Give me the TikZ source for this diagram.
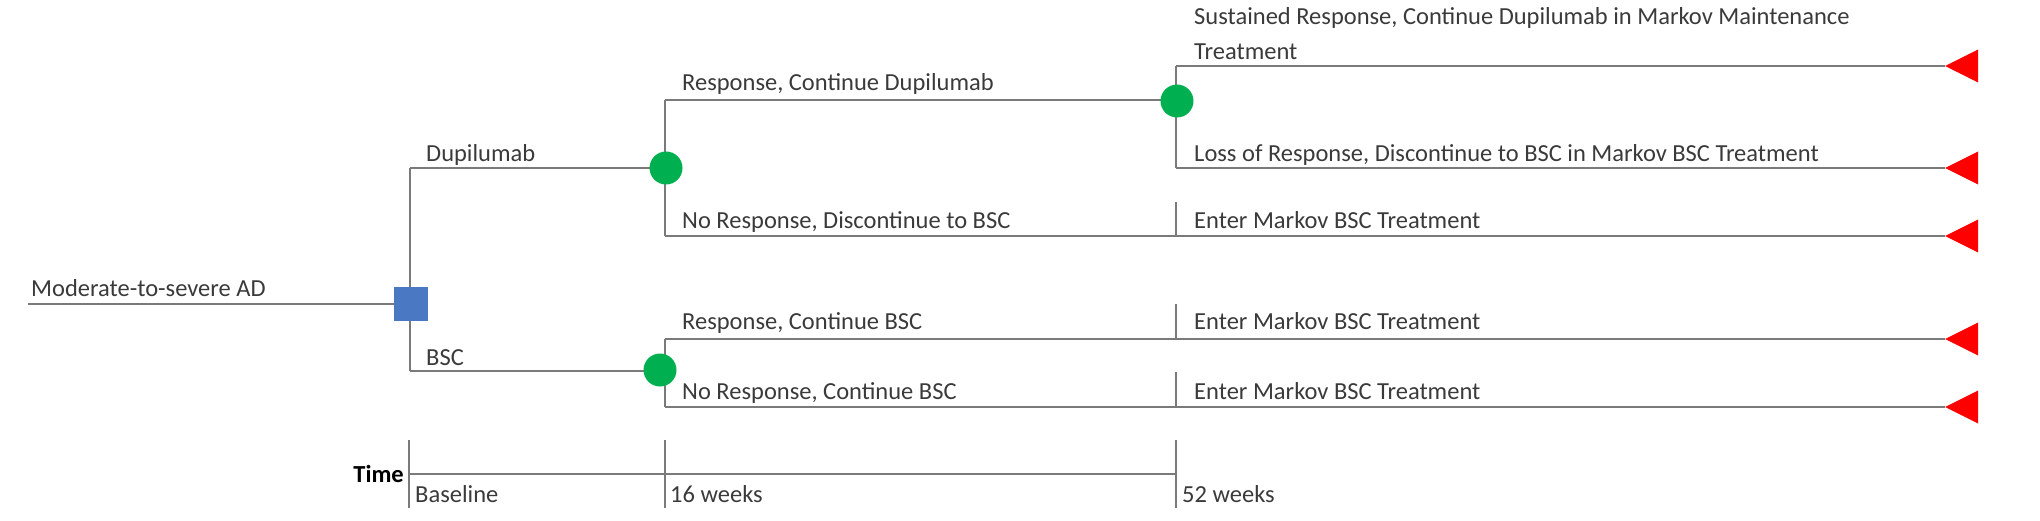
\documentclass[tikz,border=0pt]{standalone}
\usepackage{fontspec}
\setmainfont{Carlito}
\definecolor{linegray}{HTML}{7A7A7A}
\definecolor{txtgray}{HTML}{3A3A3A}
\definecolor{decblue}{HTML}{4A78C2}
\definecolor{chgreen}{HTML}{00B050}
\definecolor{termred}{HTML}{FF0000}
\tikzset{
  br/.style={draw=linegray, line width=2.4pt},
  lbl/.style={anchor=base west, inner sep=0pt, text=txtgray, font=\fontsize{24.5}{29}\selectfont},
  decision/.style={rectangle, fill=decblue, minimum size=34pt, inner sep=0pt},
  chance/.style={circle, fill=chgreen, minimum size=33pt, inner sep=0pt},
  termtri/.style={fill=termred}
}
\begin{document}
\begin{tikzpicture}[x=1pt,y=-1pt]
\useasboundingbox (0,0) rectangle (2040,521);
% junction coordinates
\coordinate (root) at (28,304);
\coordinate (jd) at (410,168);
\coordinate (jb) at (410,371);
\coordinate (c1top) at (665,100);
\coordinate (c1bot) at (665,236);
\coordinate (c2top) at (1176,66);
\coordinate (c2bot) at (1176,168);
\coordinate (c3top) at (665,339);
\coordinate (c3bot) at (665,407);
\coordinate (t1) at (1945,66);
\coordinate (t2) at (1945,168);
\coordinate (t3) at (1945,236);
\coordinate (t4) at (1945,339);
\coordinate (t5) at (1945,407);
% ticks at 52 weeks
\coordinate (k1a) at (1176,202); \coordinate (k1b) at (1176,236);
\coordinate (k2a) at (1176,304); \coordinate (k2b) at (1176,339);
\coordinate (k3a) at (1176,372); \coordinate (k3b) at (1176,407);
% time axis
\coordinate (ta) at (409,474); \coordinate (tb) at (1176,474);
\coordinate (tk1a) at (409,440); \coordinate (tk1b) at (409,508);
\coordinate (tk2a) at (665,440); \coordinate (tk2b) at (665,508);
\coordinate (tk3a) at (1176,440); \coordinate (tk3b) at (1176,508);

% branches
\draw[br] (root) -- (410,304);
\draw[br] (jd) -- (jb);
\draw[br] (jd) -- (666,168);
\draw[br] (jb) -- (660,371);
\draw[br] (c1top) -- (c1bot);
\draw[br] (c1top) -- (1177,100);
\draw[br] (c1bot) -- (t3);
\draw[br] (c2top) -- (c2bot);
\draw[br] (c2top) -- (t1);
\draw[br] (c2bot) -- (t2);
\draw[br] (c3top) -- (c3bot);
\draw[br] (c3top) -- (t4);
\draw[br] (c3bot) -- (t5);
\draw[br] (k1a) -- (k1b);
\draw[br] (k2a) -- (k2b);
\draw[br] (k3a) -- (k3b);
\draw[br] (ta) -- (tb);
\draw[br] (tk1a) -- (tk1b);
\draw[br] (tk2a) -- (tk2b);
\draw[br] (tk3a) -- (tk3b);

% nodes
\node[decision] (sq) at (411,304) {};
\node[chance] (c1) at (666,168) {};
\node[chance] (c2) at (1177,101) {};
\node[chance] (c3) at (660,370) {};

% terminals
\foreach \t in {t1,t2,t3,t4,t5}{
  \fill[termred] (\t) -- ++(33,-16.5) -- ++(0,33) -- cycle;
}

% labels
\node[lbl] (lroot) at (31,297) {Moderate-to-severe AD};
\node[lbl] (ldup) at (426,162) {Dupilumab};
\node[lbl] (lbsc) at (426,365) {BSC};
\node[lbl] (lrcd) at (682,91) {Response, Continue Dupilumab};
\node[lbl] (lnrd) at (682,229) {No Response, Discontinue to BSC};
\node[lbl] (lrcb) at (682,330) {Response, Continue BSC};
\node[lbl] (lnrb) at (682,399) {No Response, Continue BSC};
\node[lbl] (lsus1) at (1194,25) {Sustained Response, Continue Dupilumab in Markov Maintenance};
\node[lbl] (lsus2) at (1194,60) {Treatment};
\node[lbl] (lloss) at (1194,162) {Loss of Response, Discontinue to BSC in Markov BSC Treatment};
\node[lbl] (le1) at (1194,229) {Enter Markov BSC Treatment};
\node[lbl] (le2) at (1194,330) {Enter Markov BSC Treatment};
\node[lbl] (le3) at (1194,399) {Enter Markov BSC Treatment};
\node[lbl, anchor=base east, text=black, font=\fontsize{24.5}{29}\selectfont\bfseries] (ltime) at (404,482) {Time};
\node[lbl] (lbase) at (415,502) {Baseline};
\node[lbl] (l16) at (670,502) {16 weeks};
\node[lbl] (l52) at (1182,502) {52 weeks};
\end{tikzpicture}
\end{document}
